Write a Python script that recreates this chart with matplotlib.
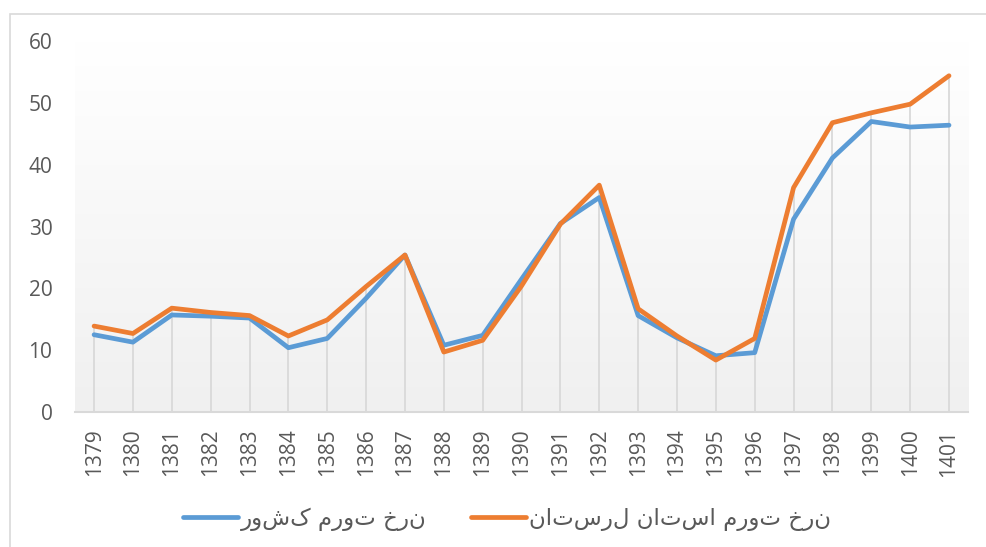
import numpy as np
import matplotlib
matplotlib.use('Agg')
import matplotlib.pyplot as plt
from matplotlib.patches import Rectangle

years = ['1379', '1380', '1381', '1382', '1383', '1384', '1385', '1386', '1387', '1388', '1389', '1390',
         '1391', '1392', '1393', '1394', '1395', '1396', '1397', '1398', '1399', '1400', '1401']
country = [12.5, 11.3, 15.7, 15.5, 15.2, 10.4, 11.9, 18.4, 25.4, 10.8, 12.4, 21.5,
           30.5, 34.7, 15.6, 12.0, 9.1, 9.6, 31.2, 41.1, 47.0, 46.1, 46.4]
lorestan = [13.9, 12.7, 16.8, 16.1, 15.6, 12.3, 14.9, 20.3, 25.4, 9.7, 11.6, 20.4,
            30.4, 36.7, 16.7, 12.3, 8.4, 11.9, 36.3, 46.8, 48.4, 49.8, 54.4]
country_label = 'نرخ تورم کشور'
lorestan_label = 'نرخ تورم استان لرستان'

plt.rcParams['font.family'] = ['Open Sans', 'DejaVu Sans']

fig = plt.figure(figsize=(9.86, 5.47), dpi=100)
ax = fig.add_axes([0.0757, 0.2468, 0.9065, 0.678])

# outer frame (cut at the right edge like the original)
fig.patches.append(Rectangle((10 / 986, -0.01), 1.0, 1 - 14 / 547 + 0.01, transform=fig.transFigure,
                             fill=False, edgecolor='#d9d9d9', linewidth=1.2))

# gradient background of the plot area
grad = np.linspace(0, 1, 256).reshape(-1, 1)
ax.imshow(grad, extent=[0, 1, 0, 1], transform=ax.transAxes, aspect='auto',
          cmap=matplotlib.colors.LinearSegmentedColormap.from_list('bg', ['#ffffff', '#f0f0f0']),
          origin='upper', zorder=0)

x = np.arange(len(years))
top = np.maximum(country, lorestan)
ax.vlines(x, 0, top, color='#d9d9d9', linewidth=1.3, zorder=1)

# matplotlib has no right-to-left layout, so the labels are reversed for display
ax.plot(x, country, color='#5B9BD5', linewidth=3.4, solid_capstyle='round', label=country_label[::-1], zorder=3)
ax.plot(x, lorestan, color='#ED7D31', linewidth=3.4, solid_capstyle='round', label=lorestan_label[::-1], zorder=4)

ax.set_xlim(-0.5, len(years) - 0.5)
ax.set_ylim(0, 60)
ax.set_yticks(range(0, 61, 10))
ax.set_xticks(x)
ax.set_xticklabels(years, rotation=90)
ax.tick_params(axis='y', length=0, pad=16, labelsize=15, labelcolor='#595959')
ax.tick_params(axis='x', length=0, pad=12, labelsize=15, labelcolor='#595959')

for s in ['top', 'right', 'left']:
    ax.spines[s].set_visible(False)
ax.spines['bottom'].set_color('#d9d9d9')
ax.spines['bottom'].set_linewidth(1.5)
ax.spines['bottom'].set_zorder(2)

leg = fig.legend(loc='center', bbox_to_anchor=(507 / 986, 0.051), ncol=2, frameon=False,
                 prop={'family': 'DejaVu Sans', 'size': 16.5}, handlelength=2.4, columnspacing=1.9,
                 handletextpad=0.15)
for t in leg.get_texts():
    t.set_color('#595959')

fig.savefig('out.png', dpi=100)
